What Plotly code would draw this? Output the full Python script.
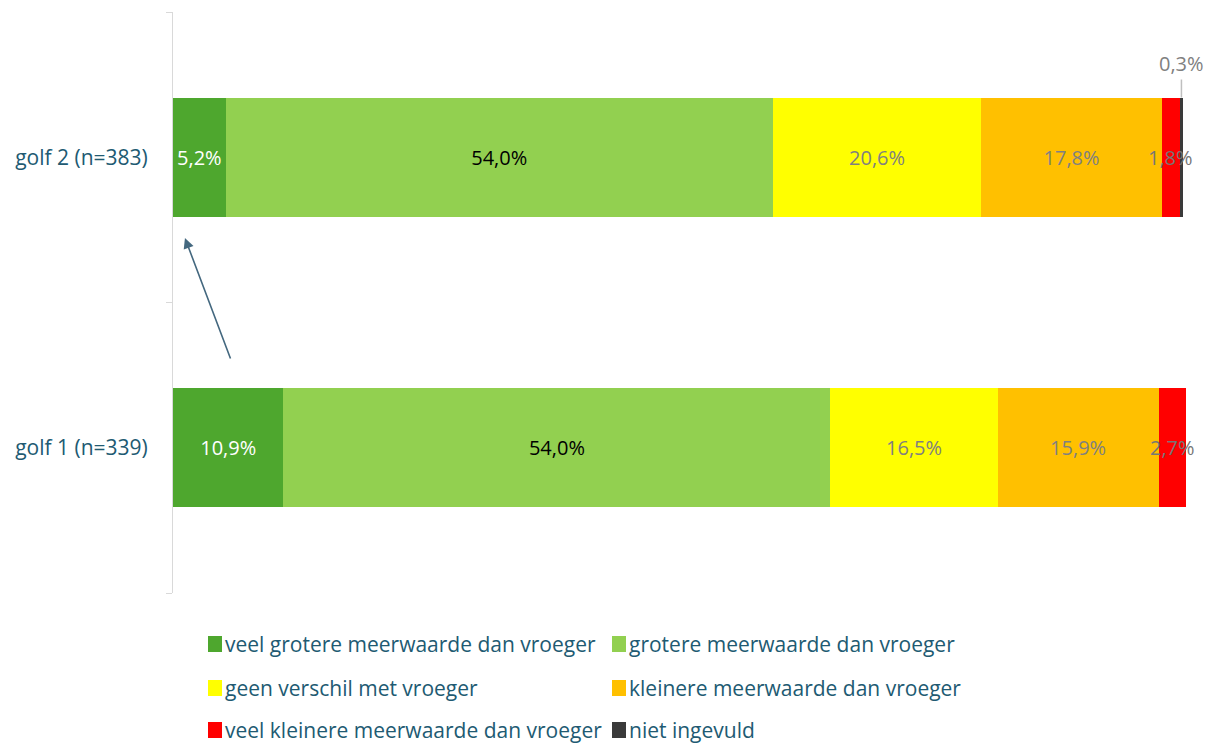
import plotly.graph_objects as go

# Survey waves (bottom to top) and answer categories
waves = ["golf 1 (n=339)", "golf 2 (n=383)"]
categories = [
    "veel grotere meerwaarde dan vroeger",
    "grotere meerwaarde dan vroeger",
    "geen verschil met vroeger",
    "kleinere meerwaarde dan vroeger",
    "veel kleinere meerwaarde dan vroeger",
    "niet ingevuld",
]
# Percentages per category, one value per wave (golf 1, golf 2)
values = {
    "veel grotere meerwaarde dan vroeger": [10.9, 5.2],
    "grotere meerwaarde dan vroeger": [54.0, 54.0],
    "geen verschil met vroeger": [16.5, 20.6],
    "kleinere meerwaarde dan vroeger": [15.9, 17.8],
    "veel kleinere meerwaarde dan vroeger": [2.7, 1.8],
    "niet ingevuld": [0.0, 0.3],
}

colors = ["#4ea72e", "#92d050", "#ffff00", "#ffc000", "#ff0000", "#3a3a3a"]
label_colors = ["#ffffff", "#000000", "#808080", "#808080", "#767676", "#767676"]
text_blue = "#215a72"
FONT = "Open Sans"
FS = 20      # data labels
FS_AX = 21   # category labels and legend
NARROW = 4.0  # segments below this share get their label as an overlay

W, H = 1207, 744
L, R, T, B = 173, 21, 12, 151
PW, PH = W - L - R, H - T - B


def px_x(p):
    return (p - L) / PW


def px_y(p):
    return (H - B - p) / PH


def fmt(v):
    return f"{v:.1f}".replace(".", ",") + "%"


fig = go.Figure()
for cat, col, lc in zip(categories, colors, label_colors):
    vals = values[cat]
    texts = [fmt(v) if v >= NARROW else "" for v in vals]
    fig.add_trace(go.Bar(
        y=waves, x=vals, name=cat, orientation="h",
        marker=dict(color=col, line=dict(width=0)),
        text=texts, textposition="inside", insidetextanchor="middle",
        textangle=0, textfont=dict(color=lc, size=FS, family=FONT),
        showlegend=False, hoverinfo="x+name",
    ))

# Labels of narrow segments, centred on the segment and allowed to overflow
for wi, wave in enumerate(waves):
    start = 0.0
    for cat, lc in zip(categories, label_colors):
        v = values[cat][wi]
        if 0 < v < NARROW and cat != "niet ingevuld":
            fig.add_annotation(
                x=start + v / 2, y=wave, xref="x", yref="y",
                text=fmt(v), showarrow=False,
                font=dict(size=FS, color=lc, family=FONT),
            )
        start += v

# Callout for the 0,3% segment of golf 2
cum = sum(values[c][1] for c in categories[:-1])
small = values["niet ingevuld"][1]
fig.add_annotation(
    x=cum + small / 2, y=1 + 0.206, xref="x", yref="y",
    text=fmt(small), showarrow=True, arrowhead=0, arrowwidth=1.5,
    arrowcolor="#bfbfbf", ax=0, ay=-18, yanchor="bottom",
    font=dict(size=FS, color="#808080", family=FONT),
)

# Trend arrow from golf 1 towards golf 2
fig.add_annotation(
    x=1.18, y=0.722, xref="x", yref="y",
    ax=5.73, ay=0.302, axref="x", ayref="y",
    text="", showarrow=True, arrowhead=2, arrowsize=1.3,
    arrowwidth=1.6, arrowcolor="#44687f",
)

# Legend drawn as two columns of swatches and labels
cols_px = [208, 612]
rows_px = [644, 688, 730]
for i, (cat, col) in enumerate(zip(categories, colors)):
    cx = cols_px[i % 2]
    cy = rows_px[i // 2]
    fig.add_shape(
        type="rect", xref="paper", yref="paper",
        x0=px_x(cx), x1=px_x(cx + 14), y0=px_y(cy + 8), y1=px_y(cy - 8),
        fillcolor=col, line=dict(width=0),
    )
    fig.add_annotation(
        x=px_x(cx + 15), y=px_y(cy), xref="paper", yref="paper",
        text=cat, showarrow=False, xanchor="left", yanchor="middle",
        font=dict(size=FS_AX, color=text_blue, family=FONT),
    )

fig.update_layout(
    barmode="stack", bargap=0.59,
    width=W, height=H,
    margin=dict(l=L, r=R, t=T, b=B),
    paper_bgcolor="white", plot_bgcolor="white",
    font=dict(family=FONT, size=FS_AX, color=text_blue),
    xaxis=dict(range=[0, 100], visible=False, fixedrange=True),
    yaxis=dict(
        type="category", categoryorder="array", categoryarray=waves,
        range=[-0.5, 1.5], showline=True, linecolor="#d9d9d9", linewidth=1,
        ticks="outside", tickson="boundaries", ticklen=6, tickcolor="#d9d9d9",
        ticklabelstandoff=20, showgrid=False, zeroline=False,
        tickfont=dict(size=FS_AX, color=text_blue, family=FONT),
    ),
)

fig.write_html("out.html")
